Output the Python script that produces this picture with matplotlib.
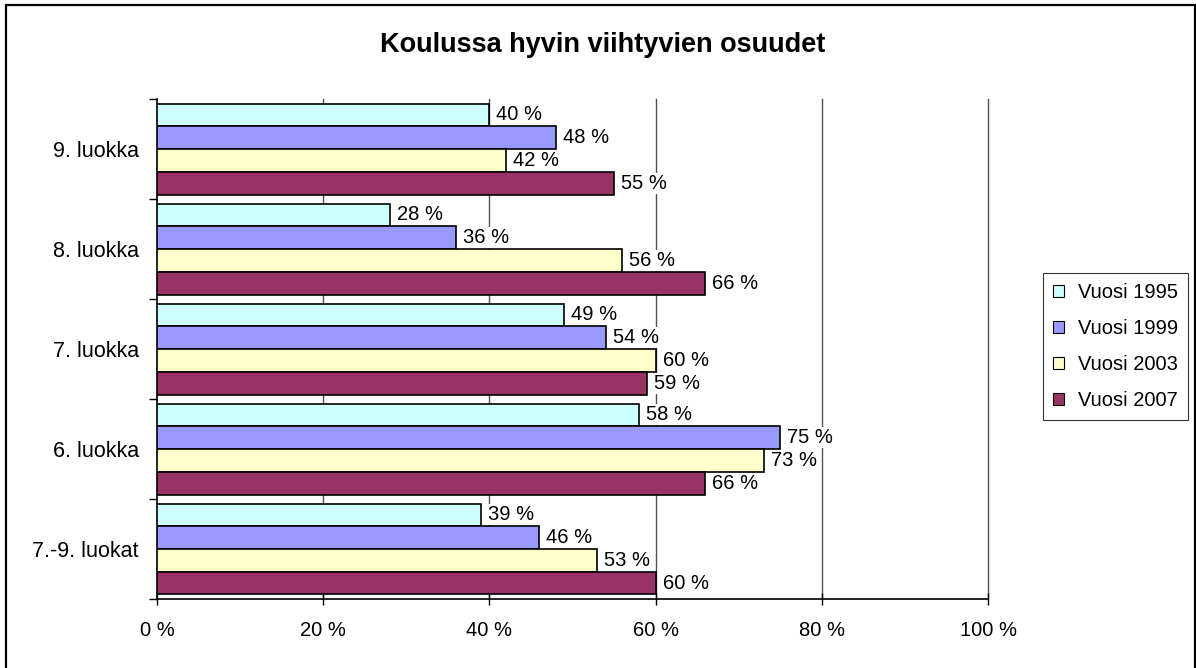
import matplotlib
matplotlib.use("Agg")
import matplotlib.pyplot as plt
from matplotlib.patches import Rectangle, Patch
import numpy as np

categories = ["9. luokka", "8. luokka", "7. luokka", "6. luokka", "7.-9. luokat"]
series_names = ["Vuosi 1995", "Vuosi 1999", "Vuosi 2003", "Vuosi 2007"]
v1995 = [40, 28, 49, 58, 39]
v1999 = [48, 36, 54, 75, 46]
v2003 = [42, 56, 60, 73, 53]
v2007 = [55, 66, 59, 66, 60]
series_values = [v1995, v1999, v2003, v2007]
colors = ["#CCFFFF", "#9999FF", "#FFFFCC", "#993366"]
xticks = [0, 20, 40, 60, 80, 100]
xtick_labels = ["0 %", "20 %", "40 %", "60 %", "80 %", "100 %"]
title = "Koulussa hyvin viihtyvien osuudet"

plt.rcParams['font.family'] = ['Liberation Sans', 'DejaVu Sans']

W, H = 1196, 668
fig = plt.figure(figsize=(W / 100, H / 100), dpi=100)
fig.patch.set_facecolor("white")

ax = fig.add_axes([157 / W, 69 / H, (988 - 157) / W, (599 - 99) / H])

h = 0.2275
gap = 0.045
n = len(categories)
for j, (name, vals, c) in enumerate(zip(series_names, series_values, colors)):
    ys = [i + gap + h * (j + 0.5) for i in range(n)]
    ax.barh(ys, vals, height=h, color=c, edgecolor="black", linewidth=1.2,
            zorder=3, label=name)
    for y, v in zip(ys, vals):
        ax.annotate(f"{v} %", xy=(v, y), xytext=(5, 0), textcoords="offset points",
                    ha="left", va="center", fontsize=14.5, zorder=4,
                    bbox=dict(boxstyle="square,pad=0.05", fc="white", ec="none"))

ax.set_xlim(0, 100)
ax.set_ylim(n, 0)
for x in xticks[1:]:
    ax.axvline(x, color="#505050", linewidth=1.0, zorder=1, clip_on=False)

ax.set_xticks(xticks)
ax.set_xticklabels(xtick_labels, fontsize=14.5)
ax.tick_params(axis="x", direction="inout", length=8, width=1, pad=12)

ax.set_yticks(np.arange(0, n + 1))
ax.set_yticklabels([])
ax.set_yticks(np.arange(n) + 0.5, minor=True)
ax.set_yticklabels(categories, minor=True, fontsize=15.5)
ax.tick_params(axis="y", which="major", direction="out", length=6, width=1)
ax.tick_params(axis="y", which="minor", length=0, pad=13)

for s in ["top", "right"]:
    ax.spines[s].set_visible(False)
ax.spines["left"].set_linewidth(1.2)
ax.spines["bottom"].set_linewidth(1.2)

fig.text(603 / W, 1 - 45 / H, title, ha="center", va="center",
         fontsize=19.5, fontweight="bold")

handles = [Patch(facecolor=c, edgecolor="black", linewidth=0.8) for c in colors]
leg = fig.legend(handles, series_names, loc="upper left",
                 bbox_to_anchor=(1043 / W, 1 - 273 / H), bbox_transform=fig.transFigure,
                 fontsize=14.5, frameon=True, fancybox=False, edgecolor="black",
                 handlelength=0.55, handleheight=0.55, handletextpad=0.7,
                 labelspacing=0.85, borderpad=0.5, borderaxespad=0)
leg.get_frame().set_linewidth(0.8)

fig.patches.append(Rectangle((6 / W, -0.02), (1195 - 6) / W, 1.02 - 5 / H,
                             transform=fig.transFigure, fill=False,
                             edgecolor="black", linewidth=1.6))

fig.savefig("out.png", dpi=100)
